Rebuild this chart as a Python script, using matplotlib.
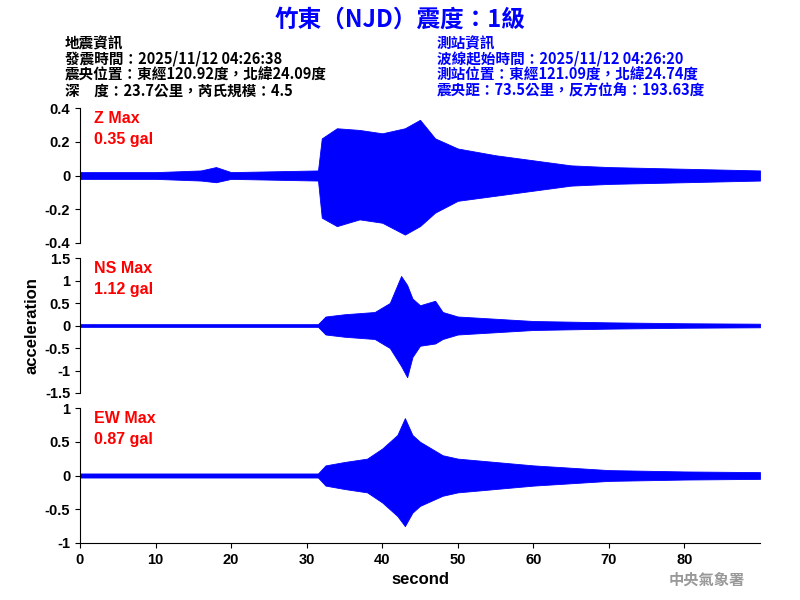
import matplotlib
matplotlib.use("Agg")
import matplotlib.pyplot as plt

plt.rcParams['font.family'] = ['Noto Sans CJK TC', 'DejaVu Sans']

# Envelope of waveform amplitudes (seconds, gal)
z_t   = [0, 10, 16, 18, 20, 31.5, 32, 34, 37, 40, 43, 45, 47, 50, 55, 60, 65, 70, 80, 90]
z_pos = [0.02, 0.02, 0.03, 0.05, 0.02, 0.03, 0.22, 0.28, 0.27, 0.25, 0.28, 0.33, 0.22, 0.16, 0.12, 0.09, 0.06, 0.05, 0.04, 0.03]
z_neg = [-0.02, -0.02, -0.03, -0.04, -0.02, -0.03, -0.25, -0.3, -0.26, -0.28, -0.35, -0.3, -0.22, -0.15, -0.12, -0.09, -0.06, -0.05, -0.04, -0.03]

ns_t   = [0, 31.5, 32.5, 35, 39, 41, 42.5, 43.3, 44, 45, 47, 48, 50, 55, 60, 70, 80, 90]
ns_pos = [0.03, 0.03, 0.2, 0.25, 0.3, 0.5, 1.1, 0.9, 0.6, 0.45, 0.55, 0.3, 0.2, 0.15, 0.1, 0.07, 0.05, 0.04]
ns_neg = [-0.03, -0.03, -0.2, -0.25, -0.3, -0.5, -0.9, -1.15, -0.7, -0.45, -0.4, -0.3, -0.2, -0.15, -0.1, -0.07, -0.05, -0.04]

ew_t   = [0, 31.5, 32.5, 35, 38, 40, 42, 43, 44, 45, 48, 50, 55, 60, 70, 80, 90]
ew_pos = [0.03, 0.03, 0.15, 0.2, 0.25, 0.4, 0.6, 0.85, 0.6, 0.5, 0.3, 0.25, 0.2, 0.15, 0.08, 0.06, 0.05]
ew_neg = [-0.03, -0.03, -0.15, -0.2, -0.25, -0.4, -0.6, -0.75, -0.55, -0.45, -0.3, -0.25, -0.2, -0.15, -0.08, -0.06, -0.05]

labels = ["Z Max\n0.35 gal", "NS Max\n1.12 gal", "EW Max\n0.87 gal"]
ylims = [(-0.4, 0.4), (-1.5, 1.5), (-1, 1)]
yticks = [[-0.4, -0.2, 0, 0.2, 0.4], [-1.5, -1, -0.5, 0, 0.5, 1, 1.5], [-1, -0.5, 0, 0.5, 1]]
ytl = [["-0.4", "-0.2", "0", "0.2", "0.4"], ["-1.5", "-1", "-0.5", "0", "0.5", "1", "1.5"], ["-1", "-0.5", "0", "0.5", "1"]]
series = [(z_t, z_pos, z_neg), (ns_t, ns_pos, ns_neg), (ew_t, ew_pos, ew_neg)]
LF = ['Liberation Sans', 'DejaVu Sans']

fig = plt.figure(figsize=(8, 6), dpi=100)
tops = [108, 258, 408]
for i in range(3):
    top = tops[i]
    ax = fig.add_axes([80/800, 1 - (top+135)/600, 680/800, 135/600])
    t, p, n = series[i]
    ax.fill_between(t, n, p, color='#0000ff', lw=0.6, edgecolor='#0000ff')
    ax.plot([0, 90], [0, 0], color='#0000ff', lw=0.8)
    ax.set_xlim(0, 90)
    ax.set_ylim(*ylims[i])
    ax.set_yticks(yticks[i])
    ax.set_yticklabels(ytl[i], fontsize=10.5, family=LF, fontweight='bold')
    for s in ['top', 'right']:
        ax.spines[s].set_visible(False)
    if i < 2:
        ax.spines['bottom'].set_visible(False)
        ax.set_xticks([])
    else:
        ax.set_xticks(range(0, 90, 10))
        ax.set_xticklabels([str(v) for v in range(0, 90, 10)], fontsize=10.5, family=LF, fontweight='bold')
        ax.set_xlabel("second", fontsize=12, family=LF, fontweight='bold')
    ax.text(0.02, 0.98, labels[i], transform=ax.transAxes, color='red', fontsize=11.5,
            va='top', ha='left', family=LF, fontweight='bold', linespacing=1.5)
    if i == 1:
        ax.set_ylabel("acceleration", fontsize=12, family=LF, fontweight='bold')

fig.text(0.5, 1 - 20/600, "竹東（NJD）震度：1級", color='#0000ff', fontsize=17,
         fontweight='bold', ha='center', va='center')
left = "地震資訊\n發震時間：2025/11/12 04:26:38\n震央位置：東經120.92度，北緯24.09度\n深　度：23.7公里，芮氏規模：4.5"
right = "測站資訊\n波線起始時間：2025/11/12 04:26:20\n測站位置：東經121.09度，北緯24.74度\n震央距：73.5公里，反方位角：193.63度"
fig.text(65/800, 1 - 35/600, left, fontsize=10.5, fontweight='bold', va='top', ha='left', linespacing=1.0)
fig.text(437/800, 1 - 35/600, right, fontsize=10.5, fontweight='bold', color='#0000ff', va='top', ha='left', linespacing=1.0)
fig.text(745/800, 1 - 580/600, "中央氣象署", fontsize=11, color='#999999', fontweight='bold', ha='right', va='center')

fig.savefig("out.png", dpi=100)
